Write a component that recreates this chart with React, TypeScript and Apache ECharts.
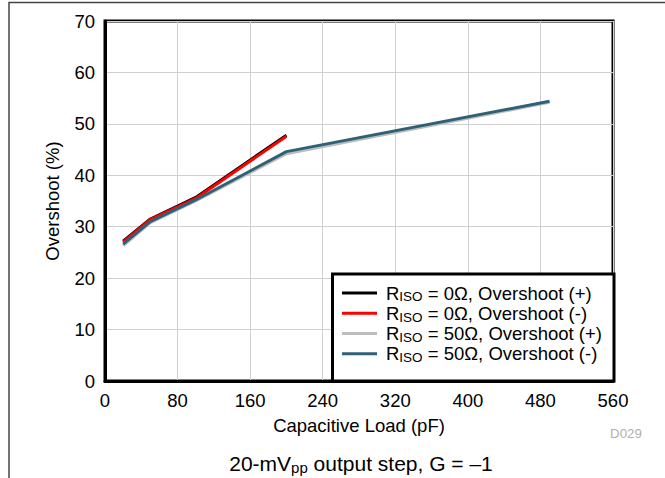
import React, { useEffect, useRef } from "react";
import * as echarts from "echarts";

const FONT = "Arial, 'Liberation Sans', Helvetica, sans-serif";

const xTicks = [0, 80, 160, 240, 320, 400, 480, 560];
const loads0 = [20, 50, 100, 200];
const loads50 = [20, 50, 100, 200, 490];
const r0Pos = [27.2, 31.5, 35.7, 47.8];
const r0Neg = [27.0, 31.4, 35.5, 47.6];
const r50Pos = [26.3, 30.8, 35.0, 44.2, 54.2];
const r50Neg = [26.6, 31.0, 35.2, 44.6, 54.4];

const seriesNames = ["R0P", "R0N", "R50P", "R50N"];
const seriesLabels: Record<string, string> = {
  R0P: "{n|R}{s|ISO}{n| = 0Ω, Overshoot (+)}",
  R0N: "{n|R}{s|ISO}{n| = 0Ω, Overshoot (-)}",
  R50P: "{n|R}{s|ISO}{n| = 50Ω, Overshoot (+)}",
  R50N: "{n|R}{s|ISO}{n| = 50Ω, Overshoot (-)}",
};
const seriesColors = ["#000000", "#ff0000", "#bdbdbd", "#2e6178"];

const pair = (xs: number[], ys: number[]) => xs.map((x, i) => [x, ys[i]]);

export default function App() {
  const ref = useRef<HTMLDivElement>(null);
  useEffect(() => {
    if (!ref.current) return;
    const chart = echarts.init(ref.current, undefined, { renderer: "svg" });
    const dataSets = [
      pair(loads0, r0Pos),
      pair(loads0, r0Neg),
      pair(loads50, r50Pos),
      pair(loads50, r50Neg),
    ];
    chart.setOption({
      animation: false,
      backgroundColor: "#ffffff",
      textStyle: { fontFamily: FONT },
      grid: {
        left: 105,
        right: 52,
        top: 21,
        bottom: 97,
        show: true,
        borderColor: "#000",
        borderWidth: 3,
        backgroundColor: "transparent",
      },
      xAxis: {
        type: "value",
        min: xTicks[0],
        max: xTicks[xTicks.length - 1],
        interval: 80,
        name: "Capacitive Load (pF)",
        nameLocation: "middle",
        nameGap: 35,
        nameTextStyle: { fontSize: 18.5, color: "#000", fontFamily: FONT },
        axisLine: { show: true, lineStyle: { color: "#000", width: 3 } },
        axisTick: { show: false },
        axisLabel: { fontSize: 18.5, color: "#000", margin: 10, fontFamily: FONT },
        splitLine: { show: true, lineStyle: { color: "#d0d0d0", width: 1 } },
      },
      yAxis: {
        type: "value",
        min: 0,
        max: 70,
        interval: 10,
        name: "Overshoot (%)",
        nameLocation: "middle",
        nameGap: 43,
        nameTextStyle: { fontSize: 18.5, color: "#000", fontFamily: FONT },
        axisLine: { show: true, lineStyle: { color: "#000", width: 3 } },
        axisTick: { show: false },
        axisLabel: { fontSize: 18.5, color: "#000", margin: 10, fontFamily: FONT },
        splitLine: { show: true, lineStyle: { color: "#d0d0d0", width: 1 } },
      },
      legend: {
        show: true,
        orient: "vertical",
        left: 342,
        top: 283.5,
        padding: 0,
        itemGap: 0,
        itemWidth: 35,
        itemHeight: 3,
        icon: "rect",
        z: 20,
        data: seriesNames.map((n, i) => ({ name: n, itemStyle: { color: seriesColors[i] } })),
        formatter: (name: string) => seriesLabels[name],
        textStyle: {
          padding: [0, 0, 0, 4],
          rich: {
            n: { fontSize: 18.5, color: "#000", fontFamily: FONT, lineHeight: 21.5 },
            s: { fontSize: 13.5, color: "#000", fontFamily: FONT, lineHeight: 21.5, verticalAlign: "bottom", padding: [6, 0, 0, 0] },
          },
        },
      },
      graphic: [
        {
          type: "polyline",
          z: 5,
          shape: { points: [[9, 478], [9, 2.5], [665, 2.5]] },
          style: { stroke: "#444", lineWidth: 1.5, fill: null },
        },
        {
          type: "rect",
          z: 10,
          shape: { x: 332.5, y: 274, width: 281.5, height: 107 },
          style: { fill: "#fff", stroke: "#000", lineWidth: 3 },
        },
        {
          type: "text",
          z: 10,
          x: 626,
          y: 433,
          style: { text: "D029", fill: "#b0b0b0", fontSize: 13.3, fontFamily: FONT, align: "center", verticalAlign: "middle" },
        },
        {
          type: "text",
          z: 10,
          x: 361,
          y: 463,
          style: {
            text: "{n|20-mV}{s|pp}{n| output step, G = –1}",
            align: "center",
            verticalAlign: "middle",
            rich: {
              n: { fontSize: 21, fill: "#000", fontFamily: FONT, lineHeight: 24 },
              s: { fontSize: 15, fill: "#000", fontFamily: FONT, lineHeight: 24, verticalAlign: "bottom", padding: [7, 0, 0, 0] },
            },
          },
        },
      ],
      series: seriesNames.map((n, i) => ({
        name: n,
        type: "line",
        data: dataSets[i],
        symbol: "none",
        lineStyle: { color: seriesColors[i], width: 3 },
        itemStyle: { color: seriesColors[i] },
        z: 2 + i,
      })),
    });
    return () => chart.dispose();
  }, []);
  return <div ref={ref} style={{ width: 665, height: 478, position: "absolute", left: 0, top: 0 }} />;
}
